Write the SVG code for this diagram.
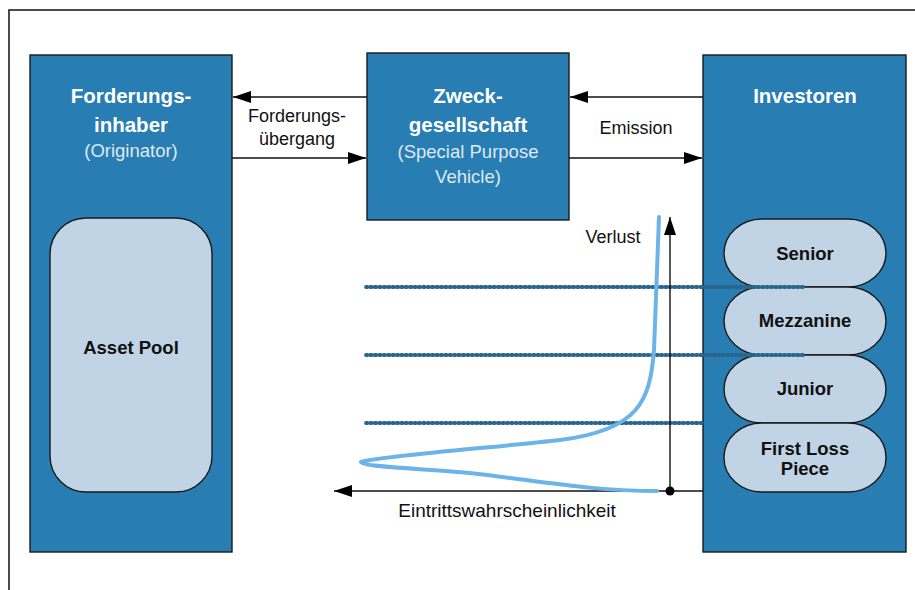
<svg xmlns="http://www.w3.org/2000/svg" width="915" height="590" viewBox="0 0 915 590">
<style>
.box{fill:#287db2;stroke:#1a1a1a;stroke-width:1.4}
.inner{fill:#c1d4e5;stroke:#1a1a1a;stroke-width:1.4}
.tb{font-family:"Liberation Sans",Arial,sans-serif;font-weight:bold;font-size:20.5px;fill:#ffffff;text-anchor:middle}
.tw{font-family:"Liberation Sans",Arial,sans-serif;font-size:18.5px;fill:#dfe9f3;text-anchor:middle}
.tk{font-family:"Liberation Sans",Arial,sans-serif;font-weight:bold;font-size:18.5px;fill:#111;text-anchor:middle}
.lbl{font-family:"Liberation Sans",Arial,sans-serif;font-size:18px;fill:#111;text-anchor:middle}
.ln{stroke:#111;stroke-width:1.4;fill:none}
.dot{stroke:#29658c;stroke-width:3.8;stroke-linecap:round;stroke-dasharray:1.4 3;fill:none}
</style>
<defs>
<marker id="ah" viewBox="0 0 18 12" refX="18" refY="6" markerWidth="18" markerHeight="12" markerUnits="userSpaceOnUse" orient="auto">
<path d="M0,0 L18,6 L0,12 Z" fill="#000"/>
</marker>
</defs>
<rect width="915" height="590" fill="#ffffff"/>
<path d="M9,590 L9,10 L915,10" stroke="#111" stroke-width="1.5" fill="none"/>

<g id="originator">
<rect class="box" x="30" y="55" width="202" height="497"/>
<text class="tb" x="131" y="103">Forderungs-</text>
<text class="tb" x="131" y="132">inhaber</text>
<text class="tw" x="131" y="157">(Originator)</text>
</g>
<g id="assetpool">
<rect class="inner" x="50" y="218" width="162" height="274" rx="36" ry="36"/>
<text class="tk" x="131" y="354">Asset Pool</text>
</g>
<g id="spv">
<rect class="box" x="367" y="53" width="202" height="167"/>
<text class="tb" x="468" y="103">Zweck-</text>
<text class="tb" x="468" y="132">gesellschaft</text>
<text class="tw" x="468" y="158">(Special Purpose</text>
<text class="tw" x="468" y="183">Vehicle)</text>
</g>
<g id="investoren">
<rect class="box" x="703" y="55" width="203" height="497"/>
<text class="tb" x="805" y="103">Investoren</text>
</g>

<g id="senior">
<rect class="inner" x="724" y="219" width="162" height="68" rx="38" ry="34"/>
<text class="tk" x="805" y="260">Senior</text>
</g>
<g id="mezzanine">
<rect class="inner" x="724" y="287" width="162" height="68" rx="38" ry="34"/>
<text class="tk" x="805" y="327">Mezzanine</text>
</g>
<g id="junior">
<rect class="inner" x="724" y="355" width="162" height="68" rx="38" ry="34"/>
<text class="tk" x="805" y="395">Junior</text>
</g>
<g id="firstloss">
<rect class="inner" x="724" y="423" width="162" height="69" rx="38" ry="34"/>
<text class="tk" x="805" y="455">First Loss</text>
<text class="tk" x="805" y="475">Piece</text>
</g>

<g id="tranche-lines">
<line class="dot" x1="366" y1="287" x2="803" y2="287"/>
<line class="dot" x1="366" y1="355" x2="803" y2="355"/>
<line class="dot" x1="366" y1="423" x2="703" y2="423"/>
</g>

<g id="connectors">
<line class="ln" x1="367" y1="97" x2="233" y2="97" marker-end="url(#ah)"/>
<line class="ln" x1="232" y1="158" x2="366" y2="158" marker-end="url(#ah)"/>
<line class="ln" x1="703" y1="97" x2="570" y2="97" marker-end="url(#ah)"/>
<line class="ln" x1="569" y1="158" x2="702" y2="158" marker-end="url(#ah)"/>
<line class="ln" x1="670" y1="491" x2="670" y2="217" marker-end="url(#ah)"/>
<line class="ln" x1="703" y1="491" x2="334" y2="491" marker-end="url(#ah)"/>
<circle cx="670" cy="491" r="4.5" fill="#000"/>
</g>

<g id="curve">
<path d="M659,217 L654,350 C650,400 640,430 560,440 C500,447 380,456 361,462 C362,467 430,469 470,473 C540,481 590,491 657,491" fill="none" stroke="#6cb4e8" stroke-width="4" stroke-linecap="round" stroke-linejoin="round"/>
</g>

<g id="labels">
<text class="lbl" x="297" y="122">Forderungs-</text>
<text class="lbl" x="297" y="145">übergang</text>
<text class="lbl" x="636" y="134">Emission</text>
<text class="lbl" x="613" y="243">Verlust</text>
<text class="lbl" x="507" y="517" style="font-size:19px">Eintrittswahrscheinlichkeit</text>
</g>
</svg>
